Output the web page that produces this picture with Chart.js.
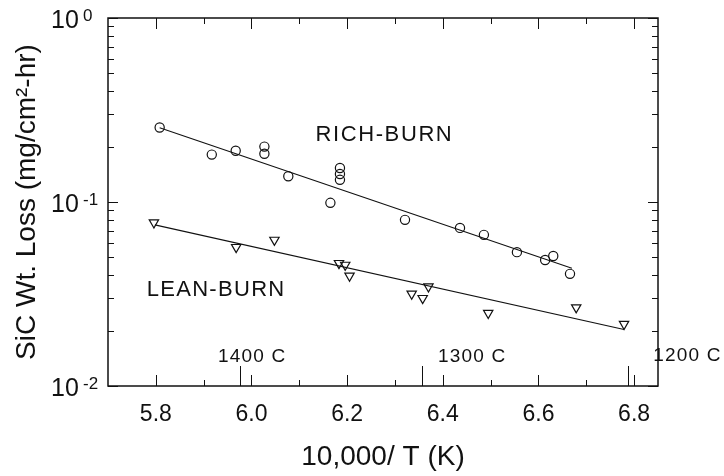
<!DOCTYPE html>
<html>
<head>
<meta charset="utf-8">
<script src="https://cdn.jsdelivr.net/npm/chart.js@4.4.1/dist/chart.umd.min.js"></script>
<style>
  html, body { margin: 0; padding: 0; background: #fff; }
</style>
</head>
<body>
<canvas id="grafico" width="724" height="476"></canvas>
<script>
// Dados
const richX = [5.808, 5.917, 5.967, 6.027, 6.027, 6.077, 6.165, 6.185, 6.185, 6.185, 6.321, 6.436, 6.486, 6.555, 6.614, 6.631, 6.666];
const richY = [0.254, 0.181, 0.190, 0.200, 0.183, 0.138, 0.099, 0.153, 0.142, 0.132, 0.080, 0.0723, 0.0663, 0.0534, 0.0484, 0.0509, 0.0407];
const leanX = [5.796, 5.968, 6.048, 6.183, 6.196, 6.205, 6.335, 6.358, 6.370, 6.495, 6.679, 6.779];
const leanY = [0.0773, 0.0568, 0.0622, 0.0465, 0.0455, 0.0397, 0.0317, 0.0300, 0.0347, 0.0249, 0.0267, 0.0217];

// Retas de ajuste
const richFitX = [5.808, 6.670];
const richFitY = [0.253, 0.0437];
const leanFitX = [5.798, 6.779];
const leanFitY = [0.0751, 0.0203];

// Eixos
const xTickValues = [5.8, 6.0, 6.2, 6.4, 6.6, 6.8];
const yTickValues = [0.01, 0.1, 1];
const tempC = [1400, 1300, 1200];
const tempLabels = ['1400 C', '1300 C', '1200 C'];

const FONT = "'Liberation Sans', Arial, sans-serif";
const INK = '#111';

// Textos soltos dentro do gráfico (posição em coordenadas de dados)
const anotacoes = [
  { text: 'RICH-BURN', x: 6.278, y: 0.2305, size: 22, spacing: 1.6, align: 'center' },
  { text: 'LEAN-BURN', x: 5.926, y: 0.0331, size: 22, spacing: 1.3, align: 'center' },
  { text: tempLabels[0], x: 5.930, y: 0.01438, size: 19, spacing: 1.2, align: 'left' },
  { text: tempLabels[1], x: 6.390, y: 0.01438, size: 19, spacing: 1.2, align: 'left' },
  { text: tempLabels[2], x: 6.840, y: 0.01460, size: 19, spacing: 1.2, align: 'left' }
];

const pares = (xs, ys) => xs.map((v, i) => ({ x: v, y: ys[i] }));

// Moldura, marcas dos eixos e rótulos com expoente
const molduraPlugin = {
  id: 'moldura',
  afterDraw(chart) {
    const { ctx, chartArea: a, scales: { x, y } } = chart;
    ctx.save();
    ctx.strokeStyle = INK;
    ctx.lineWidth = 1.5;
    ctx.strokeRect(a.left, a.top, a.right - a.left, a.bottom - a.top);

    ctx.lineWidth = 1;
    ctx.beginPath();
    for (let i = 0; i <= 10; i++) {
      const px = Math.round(x.getPixelForValue(5.8 + i * 0.1)) + 0.5;
      const len = i % 2 === 0 ? 11 : 6;
      ctx.moveTo(px, a.bottom); ctx.lineTo(px, a.bottom - len);
      ctx.moveTo(px, a.top); ctx.lineTo(px, a.top + len);
    }
    tempC.forEach(t => {
      const px = Math.round(x.getPixelForValue(10000 / (t + 273.15))) + 0.5;
      ctx.moveTo(px, a.bottom); ctx.lineTo(px, a.bottom - 20);
    });
    for (let d = -2; d <= 0; d++) {
      for (let m = 1; m <= (d === 0 ? 1 : 9); m++) {
        const py = Math.round(y.getPixelForValue(m * Math.pow(10, d))) + 0.5;
        const len = m === 1 ? 10 : 6;
        ctx.moveTo(a.left, py); ctx.lineTo(a.left + len, py);
        ctx.moveTo(a.right, py); ctx.lineTo(a.right - len, py);
      }
    }
    ctx.stroke();

    // rótulos do eixo y: 10 com expoente
    ctx.fillStyle = INK;
    ctx.textAlign = 'left';
    ctx.textBaseline = 'alphabetic';
    yTickValues.forEach(v => {
      const py = y.getPixelForValue(v);
      const exp = Math.round(Math.log10(v));
      ctx.font = `25px ${FONT}`;
      ctx.fillText('10', 51, py + 10);
      ctx.font = `17px ${FONT}`;
      ctx.fillText(String(exp), 83, py + 2.5);
    });

    anotacoes.forEach(n => {
      ctx.font = `${n.size}px ${FONT}`;
      ctx.letterSpacing = n.spacing + 'px';
      ctx.textAlign = n.align;
      ctx.textBaseline = 'middle';
      ctx.fillText(n.text, x.getPixelForValue(n.x), y.getPixelForValue(n.y));
    });
    ctx.restore();
  }
};

const ctx = document.getElementById('grafico');

const chart = new Chart(ctx, {
  type: 'scatter',
  data: {
    datasets: [
      {
        label: 'RICH-BURN',
        data: pares(richX, richY),
        pointStyle: 'circle',
        pointRadius: 4.6,
        borderColor: INK,
        backgroundColor: 'rgba(0,0,0,0)',
        borderWidth: 1.2
      },
      {
        label: 'RICH-BURN ajuste',
        data: pares(richFitX, richFitY),
        showLine: true,
        pointRadius: 0,
        borderColor: INK,
        borderWidth: 1.1
      },
      {
        label: 'LEAN-BURN',
        data: pares(leanX, leanY),
        pointStyle: 'triangle',
        rotation: 180,
        pointRadius: 5.4,
        borderColor: INK,
        backgroundColor: 'rgba(0,0,0,0)',
        borderWidth: 1.2
      },
      {
        label: 'LEAN-BURN ajuste',
        data: pares(leanFitX, leanFitY),
        showLine: true,
        pointRadius: 0,
        borderColor: INK,
        borderWidth: 1.1
      }
    ]
  },
  options: {
    responsive: false,
    animation: false,
    devicePixelRatio: 1,
    layout: { padding: { top: 18, right: 66, bottom: 0, left: 0 } },
    plugins: {
      legend: { display: false },
      tooltip: { enabled: false }
    },
    scales: {
      x: {
        type: 'linear',
        min: 5.7,
        max: 6.85,
        grid: { display: false, drawTicks: false },
        border: { display: false },
        afterBuildTicks: s => { s.ticks = xTickValues.map(v => ({ value: v })); },
        afterFit: s => { s.height = 90; },
        ticks: {
          padding: 15,
          color: INK,
          autoSkip: false,
          maxRotation: 0,
          font: { family: FONT, size: 23 },
          callback: v => Number(v).toFixed(1)
        },
        title: {
          display: true,
          text: '10,000/ T (K)',
          color: INK,
          font: { family: FONT, size: 28 },
          padding: { top: 0, bottom: 2 }
        }
      },
      y: {
        type: 'logarithmic',
        min: 0.01,
        max: 1,
        grid: { display: false, drawTicks: false },
        border: { display: false },
        ticks: { display: false },
        afterFit: s => { s.width = 108; },
        title: {
          display: true,
          text: 'SiC Wt. Loss (mg/cm²-hr)',
          color: INK,
          font: { family: FONT, size: 28 },
          padding: { top: 10, bottom: 0 }
        }
      }
    }
  },
  plugins: [molduraPlugin]
});
</script>
</body>
</html>
